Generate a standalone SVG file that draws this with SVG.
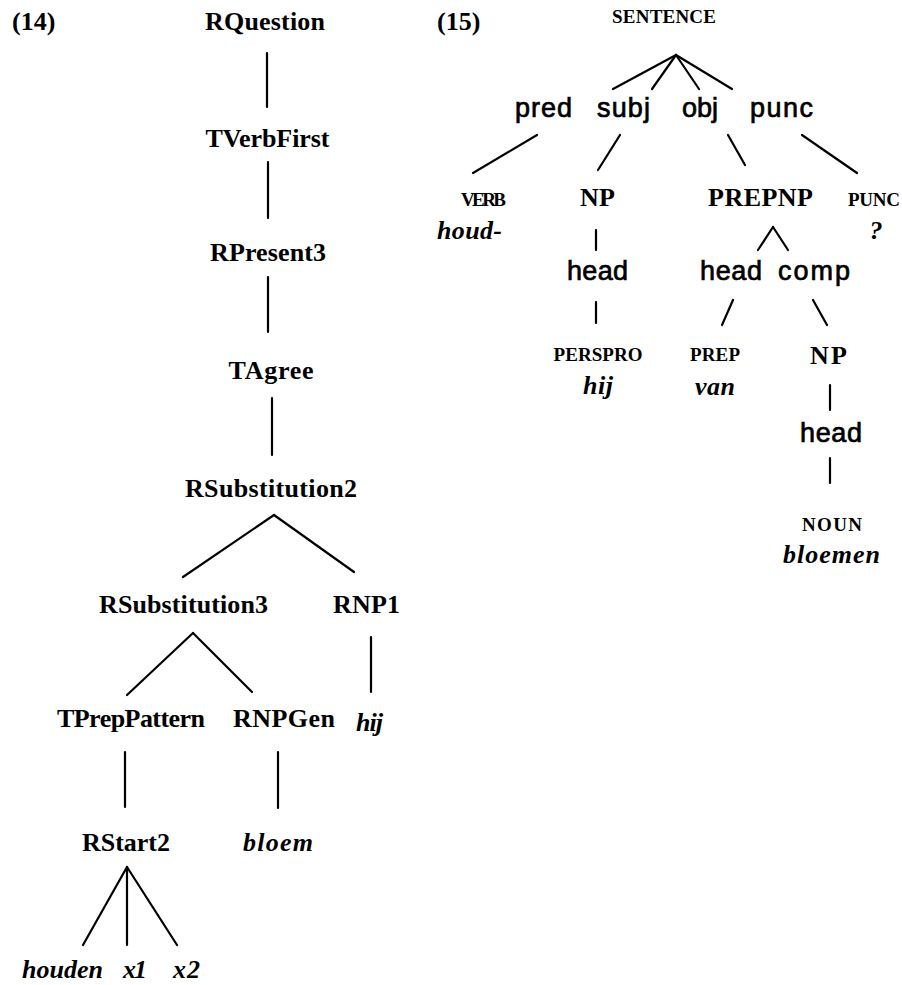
<svg xmlns="http://www.w3.org/2000/svg" width="902" height="985" viewBox="0 0 902 985">
  <style>
    .bg { fill: #ffffff; }
    text { fill: #000000; }
    .num { font-family: "Liberation Serif", "Times New Roman", serif; font-weight: bold; font-size: 26px; }
    .rule { font-family: "Liberation Serif", "Times New Roman", serif; font-weight: bold; font-size: 26px; text-anchor: middle; }
    .word { font-family: "Liberation Serif", "Times New Roman", serif; font-weight: bold; font-style: italic; font-size: 26px; text-anchor: middle; }
    .cat { font-family: "Liberation Serif", "Times New Roman", serif; font-weight: bold; font-size: 19px; text-anchor: middle; }
    .rel { font-family: "Liberation Sans", Arial, sans-serif; font-size: 27px; text-anchor: middle; stroke: #000; stroke-width: 0.7px; }
    .edge { stroke: #000000; stroke-width: 2.2; stroke-linecap: round; fill: none; }
  </style>
  <rect class="bg" x="0" y="0" width="902" height="985"/>

  <!-- example numbers -->
  <text class="num" x="12" y="30">(14)</text>
  <text class="num" x="437" y="30">(15)</text>

  <!-- connectors of both trees -->
  <g id="connectors">
    <!-- tree (14) -->
    <line class="edge" x1="267" y1="53" x2="267" y2="107"/>
    <line class="edge" x1="268" y1="162" x2="268" y2="218"/>
    <line class="edge" x1="268" y1="277" x2="268" y2="332"/>
    <line class="edge" x1="272" y1="398" x2="272" y2="455"/>
    <line class="edge" x1="274" y1="515" x2="183" y2="577"/>
    <line class="edge" x1="274" y1="515" x2="354" y2="572"/>
    <line class="edge" x1="193" y1="633" x2="127" y2="695"/>
    <line class="edge" x1="193" y1="633" x2="252" y2="692"/>
    <line class="edge" x1="371" y1="637" x2="371" y2="692"/>
    <line class="edge" x1="125" y1="752" x2="125" y2="807"/>
    <line class="edge" x1="278" y1="752" x2="278" y2="808"/>
    <line class="edge" x1="127" y1="867" x2="83" y2="945"/>
    <line class="edge" x1="127" y1="867" x2="127" y2="945"/>
    <line class="edge" x1="127" y1="867" x2="177" y2="945"/>
    <!-- tree (15) -->
    <line class="edge" x1="676" y1="55" x2="613" y2="89"/>
    <line class="edge" x1="676" y1="55" x2="652" y2="89"/>
    <line class="edge" x1="676" y1="55" x2="699" y2="89"/>
    <line class="edge" x1="676" y1="55" x2="732" y2="89"/>
    <line class="edge" x1="537" y1="135" x2="473" y2="173"/>
    <line class="edge" x1="620" y1="135" x2="598" y2="170"/>
    <line class="edge" x1="728" y1="135" x2="745" y2="165"/>
    <line class="edge" x1="802" y1="135" x2="857" y2="173"/>
    <line class="edge" x1="596" y1="230" x2="596" y2="250"/>
    <line class="edge" x1="773" y1="227" x2="758" y2="250"/>
    <line class="edge" x1="773" y1="227" x2="788" y2="250"/>
    <line class="edge" x1="596" y1="302" x2="596" y2="323"/>
    <line class="edge" x1="733" y1="300" x2="722" y2="325"/>
    <line class="edge" x1="813" y1="300" x2="827" y2="325"/>
    <line class="edge" x1="830" y1="385" x2="830" y2="410"/>
    <line class="edge" x1="830" y1="458" x2="830" y2="483"/>
  </g>

  <!-- tree (14): derivation -->
  <g id="n-rquestion"><text class="rule" x="265" y="30" textLength="120">RQuestion</text></g>
  <g id="n-tverbfirst"><text class="rule" x="267.5" y="147" textLength="124">TVerbFirst</text></g>
  <g id="n-rpresent3"><text class="rule" x="268" y="261" textLength="116">RPresent3</text></g>
  <g id="n-tagree"><text class="rule" x="271" y="379" textLength="85">TAgree</text></g>
  <g id="n-rsubstitution2"><text class="rule" x="271" y="497" textLength="172">RSubstitution2</text></g>
  <g id="n-rsubstitution3"><text class="rule" x="183.5" y="613" textLength="169">RSubstitution3</text></g>
  <g id="n-rnp1"><text class="rule" x="366.5" y="613" textLength="67">RNP1</text></g>
  <g id="n-tpreppattern"><text class="rule" x="131" y="727" textLength="148">TPrepPattern</text></g>
  <g id="n-rnpgen"><text class="rule" x="284" y="727" textLength="102">RNPGen</text></g>
  <g id="n-hij1"><text class="word" x="369.5" y="731" textLength="27">hij</text></g>
  <g id="n-rstart2"><text class="rule" x="126" y="851" textLength="88">RStart2</text></g>
  <g id="n-bloem"><text class="word" x="278" y="851" textLength="70">bloem</text></g>
  <g id="n-houden"><text class="word" x="62.5" y="978" textLength="81">houden</text></g>
  <g id="n-x1"><text class="word" x="135" y="978" textLength="24">x1</text></g>
  <g id="n-x2"><text class="word" x="186.5" y="978" textLength="27">x2</text></g>

  <!-- tree (15): dependency structure -->
  <g id="n-sentence"><text class="cat" x="664" y="23" textLength="104">SENTENCE</text></g>
  <g id="n-pred"><text class="rel" x="543.5" y="117" textLength="57">pred</text></g>
  <g id="n-subj"><text class="rel" x="623.5" y="117" textLength="53">subj</text></g>
  <g id="n-obj"><text class="rel" x="700" y="117" textLength="36">obj</text></g>
  <g id="n-punc"><text class="rel" x="781.5" y="117" textLength="63">punc</text></g>
  <g id="n-verb"><text class="cat" x="483.5" y="206" textLength="45">VERB</text><text class="word" x="469.5" y="239" textLength="65">houd-</text></g>
  <g id="n-np1"><text class="rule" x="597.5" y="206" textLength="35">NP</text></g>
  <g id="n-prepnp"><text class="rule" x="760.5" y="206" textLength="105">PREPNP</text></g>
  <g id="n-punccat"><text class="cat" x="874" y="206" textLength="52">PUNC</text><text class="word" x="876" y="239">?</text></g>
  <g id="n-head1"><text class="rel" x="597.5" y="280" textLength="61">head</text></g>
  <g id="n-head2"><text class="rel" x="731" y="280" textLength="62">head</text></g>
  <g id="n-comp"><text class="rel" x="814" y="280" textLength="72">comp</text></g>
  <g id="n-perspro"><text class="cat" x="598" y="361" textLength="89">PERSPRO</text><text class="word" x="598" y="394" textLength="30">hij</text></g>
  <g id="n-prep"><text class="cat" x="715" y="361" textLength="50">PREP</text><text class="word" x="715" y="395" textLength="40">van</text></g>
  <g id="n-np2"><text class="rule" x="828.5" y="364" textLength="37">NP</text></g>
  <g id="n-head3"><text class="rel" x="831" y="442" textLength="62">head</text></g>
  <g id="n-noun"><text class="cat" x="832" y="531" textLength="60">NOUN</text><text class="word" x="831.5" y="563" textLength="97">bloemen</text></g>
</svg>
